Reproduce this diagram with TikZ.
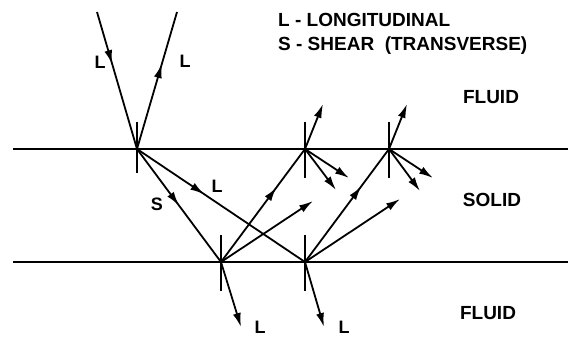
\documentclass[tikz,border=0pt]{standalone}
\usepackage{fontspec}
\setmainfont{Liberation Sans}
\usetikzlibrary{arrows.meta,decorations.markings}
\tikzset{
  ray/.style={line width=1.8pt},
  endtip/.style={ray,-{Latex[length=14pt,width=8pt]}},
  midarr/.style={ray,postaction={decorate},decoration={markings,mark=at position #1 with {\arrow{Latex[length=14pt,width=8pt]}}}},
  normal/.style={line width=1.4pt},
  iface/.style={line width=1.8pt},
  lbl/.style={font=\bfseries\fontsize{18}{18}\selectfont, inner sep=0pt},
  big/.style={font=\bfseries\fontsize{19}{19}\selectfont, inner sep=0pt},
}
\begin{document}
\begin{tikzpicture}[x=1pt,y=-1pt]
\useasboundingbox (0,0) rectangle (568,338);
% interfaces
\coordinate (t0) at (13,149); \coordinate (t1) at (568,149);
\coordinate (b0) at (13,262); \coordinate (b1) at (568,262);
\draw[iface] (t0) -- (t1);
\draw[iface] (b0) -- (b1);
% points
\coordinate (A) at (137,149);
\coordinate (B) at (221,262);
\coordinate (C) at (305,262);
\coordinate (D) at (305,149);
\coordinate (E) at (389,149);
\coordinate (i0) at (97,12);
\coordinate (r1) at (177,12);
% normals
\draw[normal] (137,122) coordinate (nA1) -- (137,173) coordinate (nA2);
\draw[normal] (221,235) coordinate (nB1) -- (221,291) coordinate (nB2);
\draw[normal] (305,235) coordinate (nC1) -- (305,291) coordinate (nC2);
\draw[normal] (305,122) coordinate (nD1) -- (305,178) coordinate (nD2);
\draw[normal] (389,122) coordinate (nE1) -- (389,178) coordinate (nE2);
% tips
\coordinate (bL) at (241,327);
\coordinate (cL) at (324,327);
\coordinate (bS) at (313,201);
\coordinate (cS) at (400,199);
\coordinate (dU) at (323,104);
\coordinate (dS1) at (349,178);
\coordinate (dS2) at (336,190);
\coordinate (eU) at (407,104);
\coordinate (eS1) at (433,178);
\coordinate (eS2) at (420,191);
% rays
\draw[midarr=0.38] (i0) -- (A);
\draw[midarr=0.62] (A) -- (r1);
\draw[midarr=0.5] (A) -- (B);
\draw[midarr=0.4] (A) -- (C);
\draw[midarr=0.66] (B) -- (D);
\draw[midarr=0.67] (C) -- (E);
\draw[endtip] (B) -- (bS);
\draw[endtip] (C) -- (cS);
\draw[endtip] (B) -- (bL);
\draw[endtip] (C) -- (cL);
\draw[endtip] (D) -- (dU);
\draw[endtip] (D) -- (dS1);
\draw[endtip] (D) -- (dS2);
\draw[endtip] (E) -- (eU);
\draw[endtip] (E) -- (eS1);
\draw[endtip] (E) -- (eS2);
% labels
\node[lbl] (l1) at (100,62) {L};
\node[lbl] (l2) at (185,61) {L};
\node[lbl] (s1) at (157,204) {S};
\node[lbl] (l3) at (217,186) {L};
\node[lbl] (l4) at (260,327) {L};
\node[lbl] (l5) at (344,327) {L};
\node[big,anchor=base west] (leg1) at (278,26) {L - LONGITUDINAL};
\node[big,anchor=base west] (leg2) at (278,50) {S - SHEAR\ \ (TRANSVERSE)};
\node[big] (f1) at (491,97) {FLUID};
\node[big] (so) at (492,200) {SOLID};
\node[big] (f2) at (488,313) {FLUID};
\end{tikzpicture}
\end{document}
